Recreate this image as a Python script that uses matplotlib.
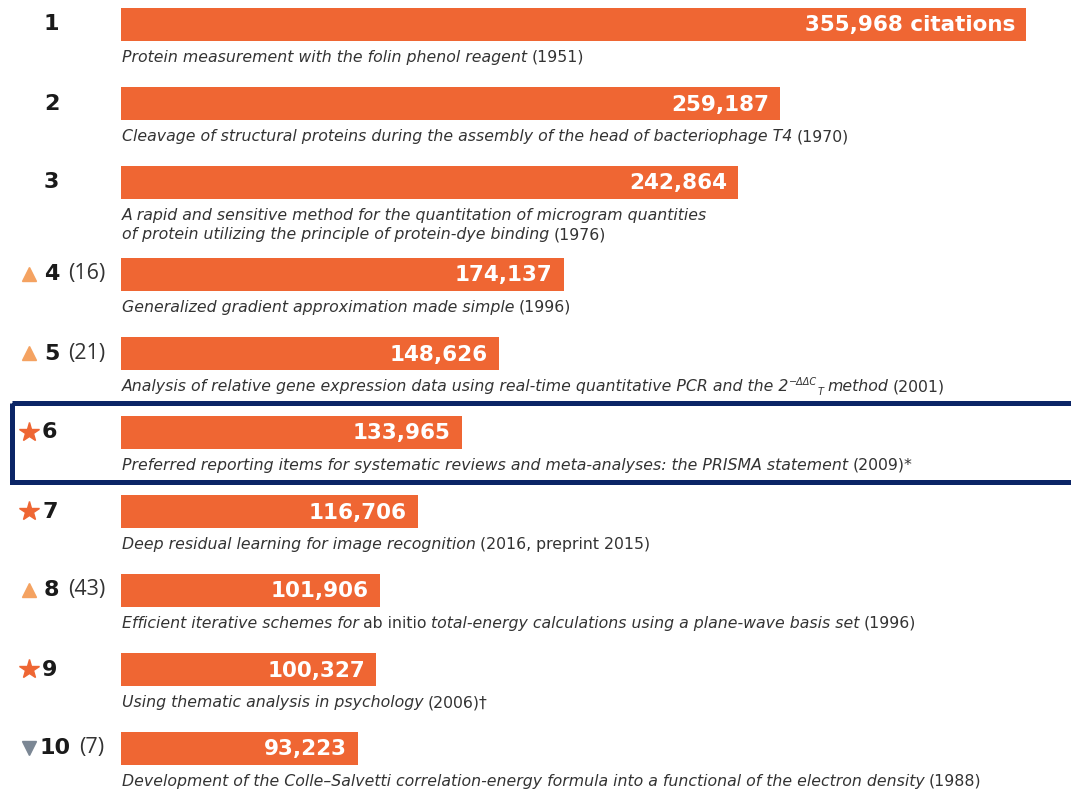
import matplotlib.pyplot as plt
from matplotlib.patches import Rectangle

ranks = [1, 2, 3, 4, 5, 6, 7, 8, 9, 10]
citations = [355968, 259187, 242864, 174137, 148626, 133965, 116706, 101906, 100327, 93223]
value_labels = ['355,968 citations', '259,187', '242,864', '174,137', '148,626',
                '133,965', '116,706', '101,906', '100,327', '93,223']
previous = [None, None, None, 16, 21, None, None, 43, None, 7]
movement = ['', '', '', 'up', 'up', 'new', 'new', 'up', 'new', 'down']
highlight = 6

# captions: list of lines, each line a list of (text, kind)
# kind: i = italic, n = upright, sup / sub = small raised / lowered italic
captions = [
    [[('Protein measurement with the folin phenol reagent', 'i'), (' (1951)', 'n')]],
    [[('Cleavage of structural proteins during the assembly of the head of bacteriophage T4', 'i'), (' (1970)', 'n')]],
    [[('A rapid and sensitive method for the quantitation of microgram quantities', 'i')],
     [('of protein utilizing the principle of protein-dye binding', 'i'), (' (1976)', 'n')]],
    [[('Generalized gradient approximation made simple', 'i'), (' (1996)', 'n')]],
    [[('Analysis of relative gene expression data using real-time quantitative PCR and the 2', 'i'),
      ('\u2212\u0394\u0394C', 'sup'), ('T', 'sub'), (' method', 'i'), (' (2001)', 'n')]],
    [[('Preferred reporting items for systematic reviews and meta-analyses: the PRISMA statement', 'i'),
      (' (2009)*', 'n')]],
    [[('Deep residual learning for image recognition', 'i'), (' (2016, preprint 2015)', 'n')]],
    [[('Efficient iterative schemes for', 'i'), (' ab initio', 'n'),
      (' total-energy calculations using a plane-wave basis set', 'i'), (' (1996)', 'n')]],
    [[('Using thematic analysis in psychology', 'i'), (' (2006)\u2020', 'n')]],
    [[('Development of the Colle\u2013Salvetti correlation-energy formula into a functional of the electron density', 'i'),
      (' (1988)', 'n')]],
]

BAR = '#EF6633'
W, H = 1071, 793
CAP_FONT = 'DejaVu Sans'
CAP_SIZE = 11.3

fig = plt.figure(figsize=(W / 100, H / 100), dpi=100)
ax = fig.add_axes([0, 0, 1, 1])
ax.axis('off')
k = 905 / citations[0]          # pixels per citation
ax.set_xlim(-121 / k, (W - 121) / k)
ax.set_ylim(H, 0)
left = ax.get_yaxis_transform()  # x in axes fraction, y in data

tops = []
y = 8
for cap in captions:
    tops.append(y)
    y += 79 + 13 * (len(cap) - 1)
centers = [t + 16.5 for t in tops]

ax.barh(centers, citations, height=33, left=0, color=BAR)

for c, v, lab in zip(centers, citations, value_labels):
    ax.annotate(lab, xy=(v, c + 1), xytext=(-8, 0), textcoords='offset points',
                ha='right', va='center', color='white', fontsize=15.5,
                fontweight='bold', family='DejaVu Sans')


def chain(x, y, parts):
    prev = None
    prev_off = 0
    for text, kind in parts:
        gap = 3 if text.startswith(' ') else 0
        text = text.strip()
        kw = dict(family=CAP_FONT, color='#333333', fontsize=CAP_SIZE,
                  style='italic' if kind != 'n' else 'normal')
        off = 0
        if kind == 'sup':
            kw['fontsize'] = 7
            off = 5
        elif kind == 'sub':
            kw['fontsize'] = 7
            off = -2
        if prev is None:
            prev = ax.text(x, y, text, va='baseline', ha='left', **kw)
        else:
            prev = ax.annotate(text, xy=(1, 0), xycoords=prev,
                               xytext=(gap, off - prev_off), textcoords='offset points',
                               va='bottom', ha='left', **kw)
        prev_off = off
    return prev


for t, cap in zip(tops, captions):
    for j, line in enumerate(cap):
        chain(1 / k, t + 54 + 19 * j, line)

# rank, movement marker and previous rank
for r, c, p, m in zip(ranks, centers, previous, movement):
    if m == 'up':
        ax.plot([29 / W], [c - 1], marker='^', ms=10, color='#F4A261', transform=left, clip_on=False)
    elif m == 'down':
        ax.plot([29 / W], [c - 1], marker='v', ms=10, color='#7B8794', transform=left, clip_on=False)
    elif m == 'new':
        ax.plot([29 / W], [c - 1], marker='*', ms=15, color='#EE6633', transform=left, clip_on=False)
    if r >= 10:
        x0 = 40
    elif m == 'new':
        x0 = 42
    else:
        x0 = 44
    rt = ax.text(x0 / W, c, str(r), transform=left, ha='left', va='center',
                 fontsize=16, fontweight='bold', color='#1a1a1a', family='DejaVu Sans')
    if p is not None:
        ax.annotate('(%d)' % p, xy=(1, 0), xycoords=rt, xytext=(6, 0), textcoords='offset points',
                    ha='left', va='bottom', fontsize=15.5, color='#333333', family='Open Sans')

# box around the highlighted entry
hi = ranks.index(highlight)
ax.add_patch(Rectangle((12 / W, tops[hi] - 13), 1.1, 79, transform=left, fill=False,
                       edgecolor='#0B2566', lw=3.6, clip_on=True))

fig.savefig('out.png', dpi=100, facecolor='white')
